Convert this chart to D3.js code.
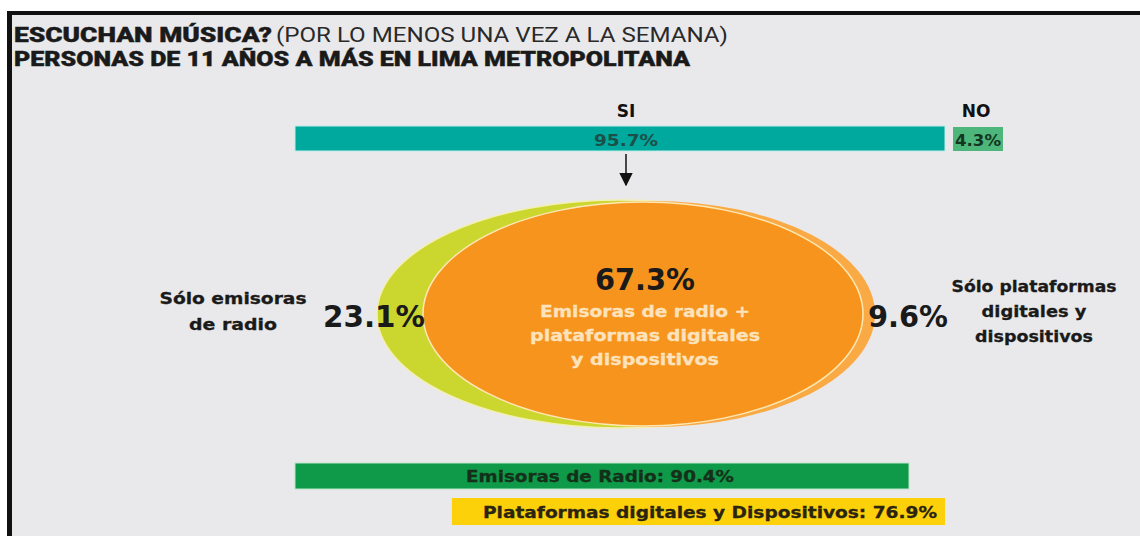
<!DOCTYPE html>
<html><head><meta charset="utf-8">
<script src="https://cdn.jsdelivr.net/npm/d3@7"></script>
<style>
html,body{margin:0;padding:0;background:#fff;}
svg{display:block;}
</style></head>
<body>
<script>
// ---- data ----
const titleBold = "ESCUCHAN MÚSICA?";
const titleRegular = "(POR LO MENOS UNA VEZ A LA SEMANA)";
const subtitle = "PERSONAS DE 11 AÑOS A MÁS EN LIMA METROPOLITANA";
const listenCategories = ["SI", "NO"];
const listenValues = [95.7, 4.3];
const vennLabels = ["Sólo emisoras de radio", "Emisoras de radio + plataformas digitales y dispositivos", "Sólo plataformas digitales y dispositivos"];
const vennValues = [23.1, 67.3, 9.6];
const totalLabels = ["Emisoras de Radio", "Plataformas digitales y Dispositivos"];
const totalValues = [90.4, 76.9];

const W = 1140, H = 536;
const svg = d3.select("body").append("svg").attr("width", W).attr("height", H);
const defs = svg.append("defs");
defs.append("marker").attr("id","arr").attr("viewBox","0 0 10 10").attr("refX",9).attr("refY",5)
  .attr("markerWidth",9).attr("markerHeight",9).attr("orient","auto")
  .append("path").attr("d","M0,0 L10,5 L0,10 z").attr("fill","#111");

// frame
svg.append("rect").attr("x",0).attr("y",0).attr("width",W).attr("height",H).attr("fill","#fff");
svg.append("rect").attr("x",12).attr("y",15).attr("width",W-12).attr("height",H-15).attr("fill","#e9e9eb");
svg.append("rect").attr("x",7).attr("y",11).attr("width",W-7).attr("height",4).attr("fill","#111");
svg.append("rect").attr("x",7).attr("y",11).attr("width",5).attr("height",H-11).attr("fill","#111");

const condensed = "'Liberation Sans Narrow','Arial Narrow','Roboto','DejaVu Sans Condensed',sans-serif";
const gothic = "'DejaVu Sans','Noto Sans',sans-serif";

// titles
const t1 = svg.append("text").attr("x",14).attr("y",42).attr("font-family",condensed).attr("font-size",20).attr("fill","#1a1a1a");
t1.append("tspan").attr("font-weight","900").attr("stroke","#1a1a1a").attr("stroke-width",0.4).text(titleBold).attr("textLength",258).attr("lengthAdjust","spacingAndGlyphs");
t1.append("tspan").attr("x",276).attr("font-weight","normal").attr("fill","#2a2a2a").text(titleRegular).attr("textLength",452).attr("lengthAdjust","spacingAndGlyphs");
svg.append("text").attr("x",14).attr("y",66).attr("font-family",condensed).attr("font-size",20).attr("font-weight","900")
  .attr("stroke","#1a1a1a").attr("stroke-width",0.4)
  .attr("fill","#1a1a1a").text(subtitle).attr("textLength",676).attr("lengthAdjust","spacingAndGlyphs");

// scale
const x = d3.scaleLinear().domain([0,100]).range([295, 295 + 650/95.7*100]);

// top bar
const yTop = 126, hTop = 25;
svg.append("rect").attr("x",x(0)).attr("y",yTop).attr("width",x(listenValues[0])-x(0)).attr("height",hTop)
  .attr("fill","#00a99d").attr("stroke","#bfeeea").attr("stroke-width",1);
const noX = x(listenValues[0]) + 8;
svg.append("rect").attr("x",noX).attr("y",yTop+1).attr("width",50).attr("height",hTop-1)
  .attr("fill","#4db67b");
svg.append("text").attr("x",626).attr("y",117).attr("text-anchor","middle").attr("font-family",gothic).attr("font-weight","bold")
  .attr("font-size",17).attr("fill","#111").text(listenCategories[0]);
svg.append("text").attr("x",noX+23).attr("y",117).attr("text-anchor","middle").attr("font-family",gothic).attr("font-weight","bold")
  .attr("font-size",17).attr("fill","#111").text(listenCategories[1]);
svg.append("text").attr("x",626).attr("y",146).attr("text-anchor","middle").attr("font-family",gothic).attr("font-weight","bold")
  .attr("font-size",16).attr("fill","#1b4f4a").text(listenValues[0].toFixed(1)+"%").attr("textLength",64).attr("lengthAdjust","spacingAndGlyphs");
svg.append("text").attr("x",noX+25).attr("y",146).attr("text-anchor","middle").attr("font-family",gothic).attr("font-weight","bold")
  .attr("font-size",16).attr("fill","#13361f").text(listenValues[1].toFixed(1)+"%").attr("textLength",46).attr("lengthAdjust","spacingAndGlyphs");
svg.append("line").attr("x1",626).attr("x2",626).attr("y1",154).attr("y2",185).attr("stroke","#111").attr("stroke-width",1.5)
  .attr("marker-end","url(#arr)");

// Venn ellipses
const cy = 314;
svg.append("ellipse").attr("cx",620).attr("cy",cy).attr("rx",243).attr("ry",114).attr("fill","#cbd62f").attr("stroke","#f3efb0").attr("stroke-width",1.5);
svg.append("ellipse").attr("cx",653).attr("cy",cy).attr("rx",222).attr("ry",113).attr("fill","#f9aa45");
svg.append("ellipse").attr("cx",643).attr("cy",cy).attr("rx",220).attr("ry",112).attr("fill","#f7941e").attr("stroke","#fde8b5").attr("stroke-width",1.5);

// center text
svg.append("text").attr("x",645).attr("y",290).attr("text-anchor","middle").attr("font-family",gothic).attr("font-weight","bold")
  .attr("font-size",30).attr("fill","#1a1a1a").text(vennValues[1].toFixed(1)+"%").attr("textLength",100).attr("lengthAdjust","spacingAndGlyphs");
const centerLines = ["Emisoras de radio +","plataformas digitales","y dispositivos"];
const centerW = [210, 230, 148];
centerLines.forEach((s,i)=>{
  svg.append("text").attr("x",645).attr("y",317+i*24).attr("text-anchor","middle").attr("font-family",gothic).attr("font-weight","bold")
    .attr("font-size",16).attr("fill","#fde3bd").attr("stroke","#fde3bd").attr("stroke-width",0.3)
    .text(s).attr("textLength",centerW[i]).attr("lengthAdjust","spacingAndGlyphs");
});

// left
svg.append("text").attr("x",374).attr("y",327).attr("text-anchor","middle").attr("font-family",gothic).attr("font-weight","bold")
  .attr("font-size",31).attr("fill","#1a1a1a").text(vennValues[0].toFixed(1)+"%").attr("textLength",102).attr("lengthAdjust","spacingAndGlyphs");
[["Sólo emisoras",147],["de radio",88]].forEach((d,i)=>{
  svg.append("text").attr("x",233).attr("y",304+i*26).attr("text-anchor","middle").attr("font-family",gothic).attr("font-weight","bold")
    .attr("font-size",16).attr("fill","#1a1a1a").attr("stroke","#1a1a1a").attr("stroke-width",0.3)
    .text(d[0]).attr("textLength",d[1]).attr("lengthAdjust","spacingAndGlyphs");
});

// right
svg.append("text").attr("x",908).attr("y",327).attr("text-anchor","middle").attr("font-family",gothic).attr("font-weight","bold")
  .attr("font-size",31).attr("fill","#1a1a1a").text(vennValues[2].toFixed(1)+"%").attr("textLength",80).attr("lengthAdjust","spacingAndGlyphs");
[["Sólo plataformas",165],["digitales y",105],["dispositivos",118]].forEach((d,i)=>{
  svg.append("text").attr("x",1034).attr("y",292+i*25).attr("text-anchor","middle").attr("font-family",gothic).attr("font-weight","bold")
    .attr("font-size",16).attr("fill","#1a1a1a").attr("stroke","#1a1a1a").attr("stroke-width",0.3)
    .text(d[0]).attr("textLength",d[1]).attr("lengthAdjust","spacingAndGlyphs");
});

// bottom bars
svg.append("rect").attr("x",x(0)).attr("y",463).attr("width",x(totalValues[0])-x(0)).attr("height",26)
  .attr("fill","#0e9a48").attr("stroke","#b9e6c7").attr("stroke-width",1);
svg.append("text").attr("x",600).attr("y",482).attr("text-anchor","middle").attr("font-family",gothic).attr("font-weight","bold")
  .attr("font-size",15).attr("fill","#15301a").attr("stroke","#15301a").attr("stroke-width",0.3)
  .text(totalLabels[0]+": "+totalValues[0].toFixed(1)+"%").attr("textLength",268).attr("lengthAdjust","spacingAndGlyphs");
// platforms bar: spans from the end of the "only radio" share to the end of the SI share
const yStart = x(vennValues[0]);
svg.append("rect").attr("x",yStart).attr("y",498).attr("width",x(listenValues[0])-yStart).attr("height",27)
  .attr("fill","#fdd10a");
svg.append("text").attr("x",710).attr("y",518).attr("text-anchor","middle").attr("font-family",gothic).attr("font-weight","bold")
  .attr("font-size",16).attr("fill","#2a2410").attr("stroke","#2a2410").attr("stroke-width",0.3)
  .text(totalLabels[1]+": "+totalValues[1].toFixed(1)+"%").attr("textLength",454).attr("lengthAdjust","spacingAndGlyphs");
</script>
</body></html>
